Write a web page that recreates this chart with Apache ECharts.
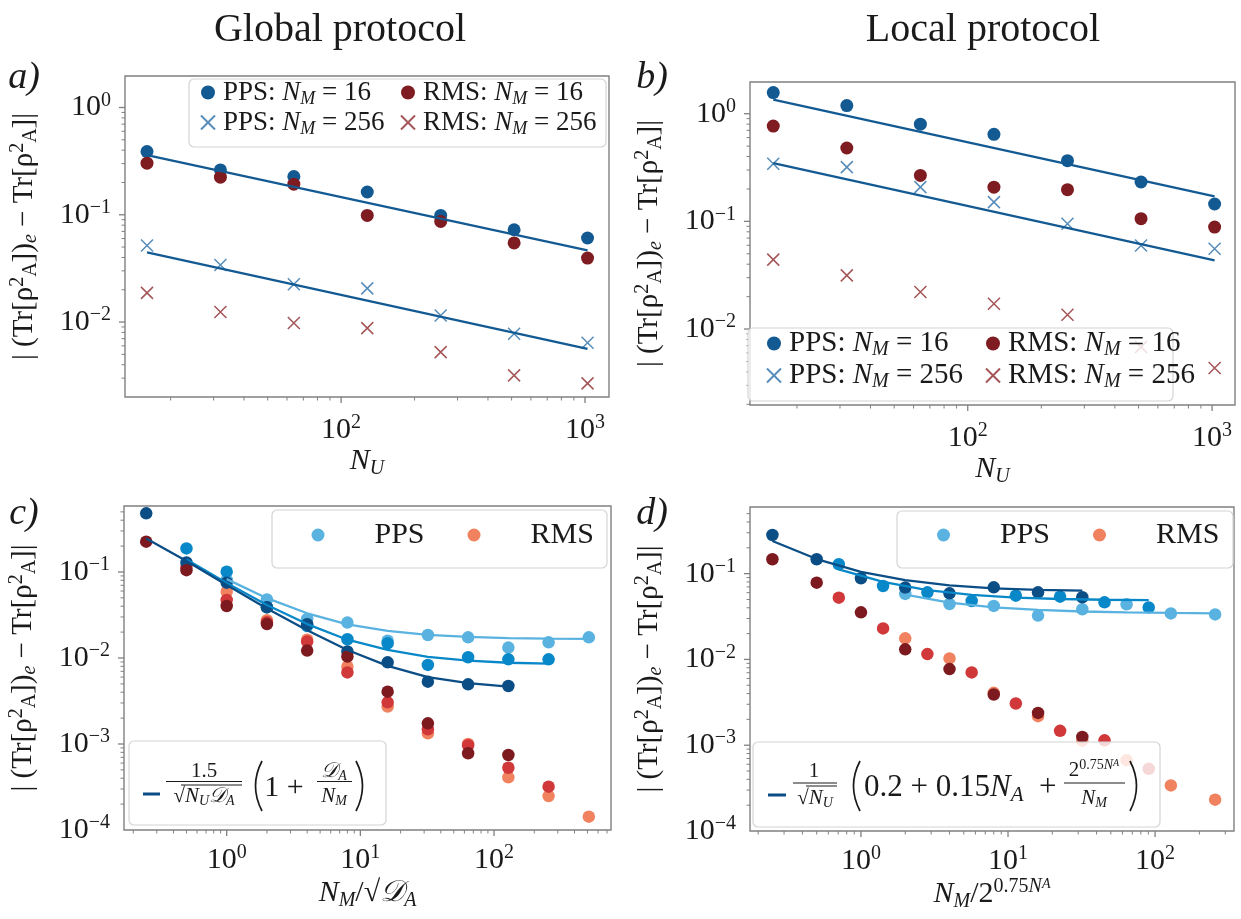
<!DOCTYPE html>
<html>
<head>
<meta charset="utf-8">
<script src="https://cdn.jsdelivr.net/npm/echarts@6.0.0/dist/echarts.min.js"></script>
<style>
  html, body { margin: 0; padding: 0; background: #fff; }
  #chart { width: 1241px; height: 919px; }
</style>
</head>
<body>
<div id="chart"></div>
<script>
// ---- data ----
const nU = [16, 32, 64, 128, 256, 512, 1024];
const fitEnds = [16, 1024];

// a) global protocol
const aPps16 = [0.388, 0.262, 0.227, 0.163, 0.0986, 0.0725, 0.0607];
const aRms16 = [0.303, 0.224, 0.193, 0.0986, 0.0867, 0.0546, 0.0395];
const aPps256 = [0.0518, 0.034, 0.0225, 0.0206, 0.0115, 0.00776, 0.0064];
const aRms256 = [0.0187, 0.0124, 0.0098, 0.00877, 0.00524, 0.00318, 0.00268];
const aFit16 = [0.359, 0.0466];
const aFit256 = [0.0446, 0.00563];

// b) local protocol
const bPps16 = [1.57, 1.19, 0.80, 0.643, 0.366, 0.232, 0.145];
const bRms16 = [0.767, 0.48, 0.267, 0.208, 0.197, 0.106, 0.0886];
const bPps256 = [0.343, 0.319, 0.208, 0.151, 0.0952, 0.0598, 0.0557];
const bRms256 = [0.0441, 0.0315, 0.0221, 0.0172, 0.0136, 0.0068, 0.00435];
const bFit16 = [1.35, 0.171];
const bFit256 = [0.348, 0.0434];

// c) N_M / sqrt(D_A)
const cXDark = [0.25, 0.5, 1, 2, 4, 8, 16, 32, 64, 128];
const cXMid = [0.5, 1, 2, 4, 8, 16, 32, 64, 128, 256];
const cXLight = [1, 2, 4, 8, 16, 32, 64, 128, 256, 512];
const cPpsDark = [0.481, 0.129, 0.0751, 0.0388, 0.0247, 0.0119, 0.0089, 0.0053, 0.00494, 0.00472];
const cPpsMid = [0.188, 0.1009, 0.039, 0.0235, 0.0165, 0.0148, 0.0083, 0.0102, 0.00964, 0.00964];
const cPpsLight = [0.0807, 0.048, 0.0284, 0.0258, 0.0159, 0.0185, 0.0174, 0.0132, 0.0152, 0.0174];
const cRmsDark = [0.225, 0.105, 0.0402, 0.0248, 0.0122, 0.0104, 0.00406, 0.00174, 0.00078, 0.000745];
const cRmsMid = [0.115, 0.0472, 0.026, 0.0155, 0.0068, 0.00305, 0.00148, 0.00097, 0.00053, 0.000319];
const cRmsLight = [0.059, 0.0275, 0.0163, 0.0079, 0.00272, 0.00133, 0.001, 0.00041, 0.000248, 0.000143];
const cFitDark = [0.245, 0.134, 0.0705, 0.0376, 0.021, 0.0124, 0.0081, 0.006, 0.0051, 0.00465];
const cFitMid = [0.14, 0.0744, 0.0413, 0.0248, 0.0163, 0.0124, 0.0103, 0.0093, 0.0088, 0.0086];
const cFitLight = [0.0826, 0.0496, 0.0331, 0.0246, 0.0207, 0.0186, 0.0176, 0.017, 0.0168, 0.0167];

// d) N_M / 2^(0.75 N_A)
const dXDark = [0.25, 0.5, 1, 2, 4, 8, 16, 32];
const dXMid = [0.707, 1.414, 2.83, 5.66, 11.3, 22.6, 45.3, 90.5];
const dXLight = [2, 4, 8, 16, 32, 64, 128, 256];
const dPpsDark = [0.282, 0.147, 0.0883, 0.0687, 0.0589, 0.0692, 0.0605, 0.053];
const dPpsMid = [0.1285, 0.0718, 0.0605, 0.048, 0.0553, 0.0539, 0.0463, 0.0404];
const dPpsLight = [0.058, 0.0443, 0.042, 0.0324, 0.0384, 0.0439, 0.0344, 0.0335];
const dRmsDark = [0.147, 0.0785, 0.0354, 0.0131, 0.00771, 0.0039, 0.00238, 0.00125];
const dRmsMid = [0.0525, 0.023, 0.01153, 0.00705, 0.00306, 0.00147, 0.00114, 0.00053];
const dRmsLight = [0.0176, 0.01028, 0.00408, 0.00218, 0.00113, 0.00067, 0.00034, 0.000232];
const dFitDark = [0.24, 0.148, 0.105, 0.084, 0.073, 0.0675, 0.0648, 0.0635];
const dFitMid = [0.112, 0.08, 0.0643, 0.0565, 0.0526, 0.0506, 0.0496, 0.0492];
const dFitLight = [0.057, 0.046, 0.0405, 0.0378, 0.0362, 0.0353, 0.0348, 0.0345];

// axis extents
const aXR = [13.0, 1254], aYR = [0.0020, 1.967];
const bXR = [12.85, 1241], bYR = [0.00197, 1.97];
const cXR = [0.1705, 750], cYR = [0.0001, 0.585];
const dXR = [0.176, 344], dYR = [0.0001, 0.598];

// ---- styles ----
const FF = "'Liberation Serif', 'DejaVu Serif', serif";
const INK = '#1a1a1a';
const FRAME = '#808080';
const blueA = '#135a93', redA = '#7f1c21', blueX = '#2d6fa8', redX = '#8c2a2d';
const bDark = '#0b4d85', bMid = '#0888c8', bLight = '#5ab2e0';
const rDark = '#7d1a1f', rMid = '#d0383a', rLight = '#f08260';

function rich(size, key) {
  const c = key || 'color';
  const sub = Math.round(size * 0.68);
  const lh = Math.round(size * 1.15);
  const o = (extra) => Object.assign({ fontFamily: FF, [c]: INK }, extra);
  return {
    t: o({ fontSize: size, lineHeight: lh }),
    tp: o({ fontSize: size, lineHeight: lh, padding: [0, 0, 0, 3] }),
    i: o({ fontSize: size, fontStyle: 'italic', lineHeight: lh }),
    sp: o({ fontSize: sub, lineHeight: sub, verticalAlign: 'top' }),
    spi: o({ fontSize: sub, fontStyle: 'italic', lineHeight: sub, verticalAlign: 'top' }),
    ssb: o({ fontSize: Math.round(sub * 0.7), fontStyle: 'italic', lineHeight: Math.round(size * 0.95), verticalAlign: 'top' }),
    sb: o({ fontSize: sub, lineHeight: sub, verticalAlign: 'bottom' }),
    sbi: o({ fontSize: sub, fontStyle: 'italic', lineHeight: sub, verticalAlign: 'bottom' })
  };
}

const labelRich = {
  b: { fontFamily: FF, fontSize: 30, color: INK, lineHeight: 34 },
  s: { fontFamily: FF, fontSize: 20, color: INK, lineHeight: 20, verticalAlign: 'top' }
};
function powLabel(v) {
  const e = Math.log10(v), r = Math.round(e);
  if (Math.abs(e - r) > 1e-6) return '';
  return '{b|10}{s|' + (r < 0 ? '\u2212' + (-r) : r) + '}';
}

const yName = '{t|| (Tr[\u03c1}{sp|2}{sb|A}{t|])}{sbi|e}{t| \u2212 Tr[\u03c1}{sp|2}{sb|A}{t|]|}';

function xAxisOf(i, r, name, gap, margin) {
  return {
    type: 'log', logBase: 10, gridIndex: i, min: r[0], max: r[1],
    axisLine: { show: false }, axisTick: { show: false }, splitLine: { show: false },
    axisLabel: { formatter: powLabel, margin: margin, rich: labelRich },
    name: name, nameLocation: 'middle', nameGap: gap,
    nameTextStyle: { rich: rich(30) }
  };
}
function yAxisOf(i, r, gap) {
  return {
    type: 'log', logBase: 10, gridIndex: i, min: r[0], max: r[1],
    axisLine: { show: false }, axisTick: { show: false }, splitLine: { show: false },
    axisLabel: { formatter: powLabel, margin: 14, rich: labelRich },
    name: yName, nameLocation: 'middle', nameGap: gap, nameRotate: 90,
    nameTextStyle: { rich: rich(29) }
  };
}

// tick marks (major at decades, minor at 2..9) drawn through the axes' own scales
function decadeMarks(r) {
  const res = [];
  for (let k = Math.floor(Math.log10(r[0])); k <= Math.ceil(Math.log10(r[1])); k++) {
    for (let m = 1; m < 10; m++) {
      const v = m * Math.pow(10, k);
      if (v > r[0] * 1.0001 && v < r[1] / 1.0001) res.push([v, m === 1 ? 1 : 0]);
    }
  }
  return res;
}
function tickSeries(i, xr, yr) {
  const data = [];
  decadeMarks(xr).forEach(function (d) { data.push([d[0], yr[0], d[1], 0]); });
  decadeMarks(yr).forEach(function (d) { data.push([xr[0], d[0], d[1], 1]); });
  return {
    type: 'custom', xAxisIndex: i, yAxisIndex: i, silent: true, z: 5, clip: false,
    data: data,
    renderItem: function (params, api) {
      const p = api.coord([api.value(0), api.value(1)]);
      const major = api.value(2) === 1;
      const len = major ? 6 : 3.5;
      const shape = api.value(3) === 0
        ? { x1: p[0], y1: p[1], x2: p[0], y2: p[1] + len }
        : { x1: p[0] - len, y1: p[1], x2: p[0], y2: p[1] };
      return { type: 'line', shape: shape, style: { stroke: FRAME, lineWidth: major ? 1.3 : 1 } };
    }
  };
}

function pts(xs, ys) { return xs.map(function (x, k) { return [x, ys[k]]; }); }
const CROSS = 'path://M0 0L10 10M10 0L0 10';
function dots(name, i, xs, ys, color, size) {
  return { name: name, type: 'scatter', xAxisIndex: i, yAxisIndex: i, data: pts(xs, ys),
    symbol: 'circle', symbolSize: size || 13, itemStyle: { color: color, opacity: 1 }, silent: true };
}
function crosses(name, i, xs, ys, color) {
  return { name: name, type: 'scatter', xAxisIndex: i, yAxisIndex: i, data: pts(xs, ys),
    symbol: CROSS, symbolSize: 12,
    itemStyle: { color: 'rgba(0,0,0,0)', borderColor: color, borderWidth: 1.5 }, silent: true };
}
function fit(name, i, xs, ys, color, w) {
  return { name: name, type: 'line', xAxisIndex: i, yAxisIndex: i, data: pts(xs, ys),
    showSymbol: false, symbol: 'none', silent: true,
    lineStyle: { color: color, width: w || 2.3 }, itemStyle: { color: color } };
}

// ---- legends ----
const legendText = {
  aP16: '{tp|PPS: }{i|N}{sbi|M}{t| = 16}', aR16: '{tp|RMS: }{i|N}{sbi|M}{t| = 16}',
  aP256: '{tp|PPS: }{i|N}{sbi|M}{t| = 256}', aR256: '{tp|RMS: }{i|N}{sbi|M}{t| = 256}',
  bP16: '{tp|PPS: }{i|N}{sbi|M}{t| = 16}', bR16: '{tp|RMS: }{i|N}{sbi|M}{t| = 16}',
  bP256: '{tp|PPS: }{i|N}{sbi|M}{t| = 256}', bR256: '{tp|RMS: }{i|N}{sbi|M}{t| = 256}',
  cPL: '{g|PPS}', cRL: '{g|RMS}', dPL: '{g|PPS}', dRL: '{g|RMS}'
};
function legendOf(names, left, top, size, gap, icon) {
  const r = rich(size);
  r.g = { fontFamily: FF, fontSize: size, color: INK, lineHeight: 32, padding: [0, 0, 0, 45] };
  return {
    data: names, orient: 'vertical', left: left, top: top, padding: 0, itemGap: gap,
    itemWidth: icon, itemHeight: icon, selectedMode: false, z: 10,
    formatter: function (n) { return legendText[n]; },
    textStyle: { rich: r }
  };
}

// ---- graphic helpers ----
function box(x, y, w, h) {
  return { type: 'rect', z: 8, shape: { x: x, y: y, width: w, height: h, r: 5 },
    style: { fill: 'rgba(255,255,255,0.8)', stroke: '#d4d4d4', lineWidth: 1.2 } };
}
function txt(x, y, text, size, opts) {
  return { type: 'text', z: 9, x: x, y: y,
    style: Object.assign({ text: text, fontFamily: FF, fontSize: size, fill: INK,
      textAlign: 'center', textVerticalAlign: 'middle', rich: rich(size, 'fill') }, opts || {}) };
}
function seg(x1, y1, x2, y2, color, w) {
  return { type: 'line', z: 9, shape: { x1: x1, y1: y1, x2: x2, y2: y2 },
    style: { stroke: color || INK, lineWidth: w || 1.1 } };
}
// tall thin parenthesis, like a LaTeX \left( \right)
function paren(x, y, open) {
  const s = open ? 1 : -1;
  return { type: 'bezierCurve', z: 9,
    shape: { x1: x + 4 * s, y1: y - 25, cpx1: x - 9 * s, cpy1: y, x2: x + 4 * s, y2: y + 25 },
    style: { stroke: INK, lineWidth: 1.7, fill: null } };
}

const graphics = [
  txt(340, 30, 'Global protocol', 40),
  txt(983, 30, 'Local protocol', 40),
  txt(24, 78, 'a)', 38, { fontStyle: 'italic' }),
  txt(652, 78, 'b)', 38, { fontStyle: 'italic' }),
  txt(24, 514, 'c)', 38, { fontStyle: 'italic' }),
  txt(652, 514, 'd)', 38, { fontStyle: 'italic' }),
  box(189, 79, 417, 68),
  box(748, 328, 425, 73),
  box(272, 510, 335, 58),
  box(897, 511, 336, 57),
  box(129, 741, 257, 84),
  box(753, 742, 407, 85),
  // c) formula legend
  seg(143, 794, 160, 794, bDark, 3),
  txt(204, 771, '1.5', 21),
  seg(166, 781.5, 242, 781.5),
  txt(204, 796, '{t|\u221a}{i|N}{sbi|U}{i|\ud835\udc9f}{sbi|A}', 21),
  seg(181, 785, 242, 785, INK, 1),
  paren(258, 786, true),
  txt(284, 788, '1 +', 30),
  txt(334, 771, '{i|\ud835\udc9f}{sbi|A}', 21),
  seg(317, 781.5, 352, 781.5),
  txt(334, 796, '{i|N}{sbi|M}', 21),
  paren(360, 786, false),
  // d) formula legend
  seg(768, 795, 786, 795, bDark, 3),
  txt(814, 771, '1', 21),
  seg(793, 783, 837, 783),
  txt(815, 798, '{t|\u221a}{i|N}{sbi|U}', 21),
  seg(806, 786, 837, 786, INK, 1),
  paren(856, 786, true),
  txt(864, 788, '{t|0.2 + 0.15}{i|N}{sbi|A}{t|  +}', 31, { textAlign: 'left' }),
  txt(1094, 770, '{t|2}{sp|0.75}{spi|N}{ssb|A}', 21),
  seg(1064, 783, 1125, 783),
  txt(1094, 798, '{i|N}{sbi|M}', 21),
  paren(1134, 786, false)
];

const chart = echarts.init(document.getElementById('chart'), null, { renderer: 'canvas' });
const gridStyle = { show: true, borderColor: FRAME, borderWidth: 1.4, backgroundColor: 'transparent' };

const option = {
  animation: false,
  backgroundColor: '#fff',
  grid: [
    Object.assign({ left: 125, top: 76, width: 484, height: 321 }, gridStyle),
    Object.assign({ left: 750, top: 82, width: 485, height: 323 }, gridStyle),
    Object.assign({ left: 124, top: 506, width: 487, height: 324 }, gridStyle),
    Object.assign({ left: 750, top: 507, width: 484, height: 324 }, gridStyle)
  ],
  xAxis: [
    xAxisOf(0, aXR, '{i|N}{sbi|U}', 42, 16),
    xAxisOf(1, bXR, '{i|N}{sbi|U}', 42, 16),
    xAxisOf(2, cXR, '{i|N}{sbi|M}{t|/\u221a}{i|\ud835\udc9f}{sbi|A}', 46, 13),
    xAxisOf(3, dXR, '{i|N}{sbi|M}{t|/2}{sp|0.75}{spi|N}{ssb|A}', 46, 13)
  ],
  yAxis: [
    yAxisOf(0, aYR, 84), yAxisOf(1, bYR, 84), yAxisOf(2, cYR, 84), yAxisOf(3, dYR, 84)
  ],
  legend: [
    legendOf(['aP16', 'aP256'], 200, 79, 27, 1, 14),
    legendOf(['aR16', 'aR256'], 400, 79, 27, 1, 14),
    legendOf(['bP16', 'bP256'], 766, 329, 29, 1, 14),
    legendOf(['bR16', 'bR256'], 985, 329, 29, 1, 14),
    legendOf(['cPL'], 311.5, 520, 30, 0, 13),
    legendOf(['cRL'], 467.5, 520, 30, 0, 13),
    legendOf(['dPL'], 937, 520, 30, 0, 13),
    legendOf(['dRL'], 1093, 520, 30, 0, 13)
  ],
  graphic: graphics,
  series: [
    tickSeries(0, aXR, aYR), tickSeries(1, bXR, bYR), tickSeries(2, cXR, cYR), tickSeries(3, dXR, dYR),
    // a
    dots('aP16', 0, nU, aPps16, blueA),
    dots('aR16', 0, nU, aRms16, redA),
    crosses('aP256', 0, nU, aPps256, blueX),
    crosses('aR256', 0, nU, aRms256, redX),
    fit('aF16', 0, fitEnds, aFit16, blueA),
    fit('aF256', 0, fitEnds, aFit256, blueA),
    // b
    dots('bP16', 1, nU, bPps16, blueA),
    dots('bR16', 1, nU, bRms16, redA),
    crosses('bP256', 1, nU, bPps256, blueX),
    crosses('bR256', 1, nU, bRms256, redX),
    fit('bF16', 1, fitEnds, bFit16, blueA),
    fit('bF256', 1, fitEnds, bFit256, blueA),
    // c
    dots('cPL', 2, cXLight, cPpsLight, bLight, 12.5),
    dots('cRL', 2, cXLight, cRmsLight, rLight, 12.5),
    dots('cPM', 2, cXMid, cPpsMid, bMid, 12.5),
    dots('cRM', 2, cXMid, cRmsMid, rMid, 12.5),
    dots('cPD', 2, cXDark, cPpsDark, bDark, 12.5),
    dots('cRD', 2, cXDark, cRmsDark, rDark, 12.5),
    fit('cFL', 2, cXLight, cFitLight, bLight),
    fit('cFM', 2, cXMid, cFitMid, bMid),
    fit('cFD', 2, cXDark, cFitDark, bDark),
    // d
    dots('dPL', 3, dXLight, dPpsLight, bLight, 12.5),
    dots('dRL', 3, dXLight, dRmsLight, rLight, 12.5),
    dots('dPM', 3, dXMid, dPpsMid, bMid, 12.5),
    dots('dRM', 3, dXMid, dRmsMid, rMid, 12.5),
    dots('dPD', 3, dXDark, dPpsDark, bDark, 12.5),
    dots('dRD', 3, dXDark, dRmsDark, rDark, 12.5),
    fit('dFL', 3, dXLight, dFitLight, bLight),
    fit('dFM', 3, dXMid, dFitMid, bMid),
    fit('dFD', 3, dXDark, dFitDark, bDark)
  ]
};

chart.setOption(option);
window.addEventListener('resize', function () { chart.resize(); });
</script>
</body>
</html>
